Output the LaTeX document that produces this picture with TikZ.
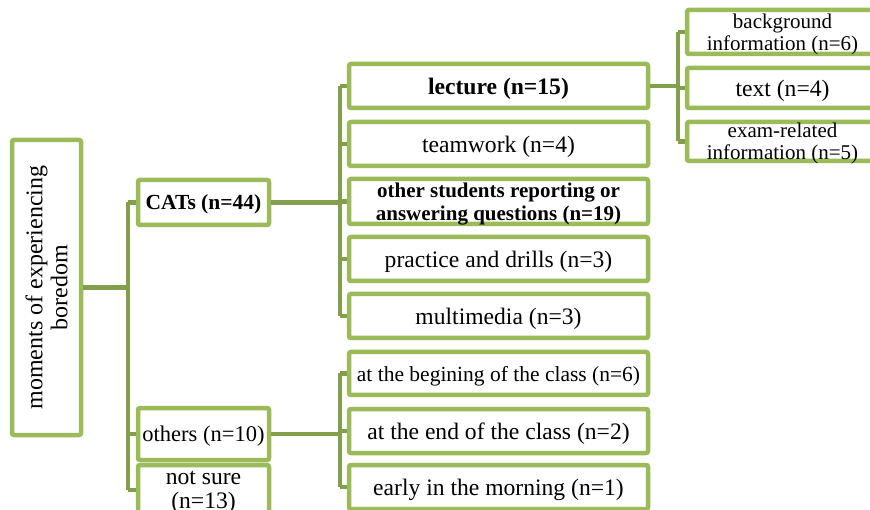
\documentclass[tikz,border=0pt]{standalone}
\usepackage{fontspec}
\setmainfont{Liberation Serif}
\definecolor{boxgreen}{HTML}{9BBB59}
\definecolor{linkgreen}{HTML}{82A04C}
\tikzset{
  box/.style={draw=boxgreen, line width=4.5pt, rounded corners=2pt, fill=white,
    inner sep=1pt, align=center, text depth=0pt, font=\fontsize{23.6}{24}\selectfont},
  smallbox/.style={box, font=\fontsize{21}{22}\selectfont},
  midbox/.style={box, font=\fontsize{21.5}{23}\selectfont},
  conn/.style={draw=linkgreen, line width=4.5pt},
}
\begin{document}
\begin{tikzpicture}[x=1pt, y=-1pt]
\useasboundingbox (0,0) rectangle (870,510);
\clip (0,0) rectangle (870,510);
% root
\node[box, rotate=90, minimum width=295, minimum height=69, font=\fontsize{24}{25}\selectfont] (root) at (46.5,287.5) {moments of experiencing\\boredom};
% level 1
\node[box, minimum width=131, minimum height=45, font=\bfseries\fontsize{21.5}{22}\selectfont] (cats) at (203.5,202.5) {CATs (n=44)};
\node[box, minimum width=131, minimum height=52, font=\fontsize{22.5}{23}\selectfont] (others) at (203.5,434) {others (n=10)};
\node[box, minimum width=131, minimum height=50] (notsure) at (203.5,490) {not sure\\(n=13)};
% level 2 (CATs)
\node[box, minimum width=299, minimum height=44, font=\bfseries\fontsize{23.6}{24}\selectfont] (lecture) at (498.5,86) {lecture (n=15)};
\node[box, minimum width=299, minimum height=44] (team) at (498.5,144) {teamwork (n=4)};
\node[box, minimum width=299, minimum height=45, font=\bfseries\fontsize{21}{22.5}\selectfont] (students) at (498.5,201.5) {other students reporting or\\answering questions (n=19)};
\node[box, minimum width=299, minimum height=44] (practice) at (498.5,259) {practice and drills (n=3)};
\node[box, minimum width=299, minimum height=44] (multi) at (498.5,316) {multimedia (n=3)};
% level 2 (others)
\node[midbox, minimum width=299, minimum height=43] (begin) at (498.5,373.5) {at the begining of the class (n=6)};
\node[box, minimum width=299, minimum height=44] (end) at (498.5,431) {at the end of the class (n=2)};
\node[box, minimum width=299, minimum height=44] (early) at (498.5,487) {early in the morning (n=1)};
% level 3 (lecture)
\node[smallbox, minimum width=191, minimum height=44] (bg) at (782.5,32) {background\\information (n=6)};
\node[box, minimum width=191, minimum height=40] (text) at (782.5,88) {text (n=4)};
\node[smallbox, minimum width=191, minimum height=39] (exam) at (782.5,141.5) {exam-related\\information (n=5)};
% connectors
\coordinate (b1) at (128,287.5);
\coordinate (b2) at (340,203);
\coordinate (b3) at (340,434);
\coordinate (b4) at (678,86);
\draw[conn] (root.south) -- (root.south -| b1);
\draw[conn] (cats.west -| b1) -- (notsure.west -| b1);
\draw[conn] (cats.west) -- (cats.west -| b1);
\draw[conn] (others.west) -- (others.west -| b1);
\draw[conn] (notsure.west) -- (notsure.west -| b1);
\draw[conn] (cats.east) -- (cats.east -| b2);
\draw[conn] (lecture.west -| b2) -- (multi.west -| b2);
\foreach \n in {lecture,team,students,practice,multi}
  \draw[conn] (\n.west) -- (\n.west -| b2);
\draw[conn] (others.east) -- (others.east -| b3);
\draw[conn] (begin.west -| b3) -- (early.west -| b3);
\foreach \n in {begin,end,early}
  \draw[conn] (\n.west) -- (\n.west -| b3);
\draw[conn] (lecture.east) -- (lecture.east -| b4);
\draw[conn] (bg.west -| b4) -- (exam.west -| b4);
\foreach \n in {bg,text,exam}
  \draw[conn] (\n.west) -- (\n.west -| b4);
\end{tikzpicture}
\end{document}
